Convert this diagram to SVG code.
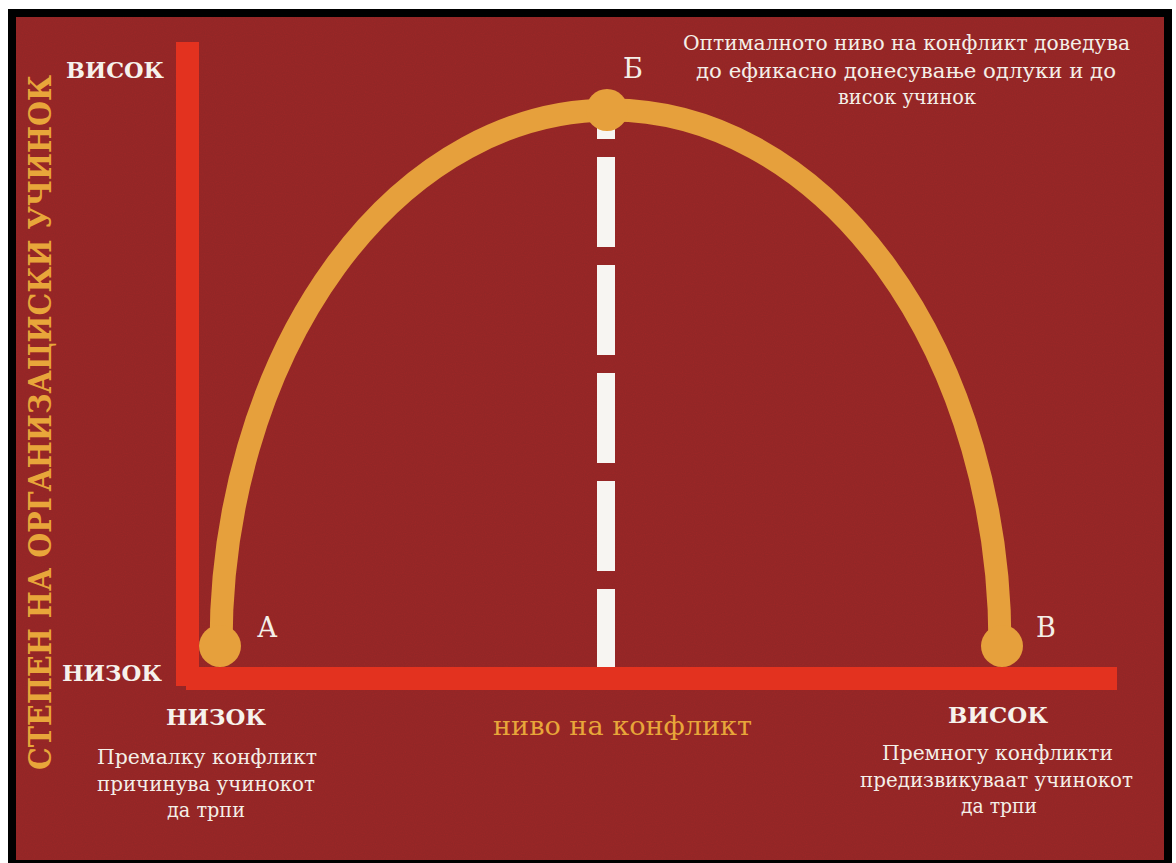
<svg xmlns="http://www.w3.org/2000/svg" width="1176" height="863" viewBox="0 0 1176 863">
<defs>
<style>
text{font-family:"DejaVu Serif","Liberation Serif",serif}
.w{fill:#f4efe8}
.wb{fill:#f6f2ec;font-weight:bold;font-size:23px}
.y{fill:#e8a63a}
.axis{fill:#e3321f}
.curve{fill:none;stroke:#e6a03c;stroke-width:23}
.dot{fill:#e6a03c}
</style>
<filter id="tex" x="0" y="0" width="100%" height="100%">
<feTurbulence type="fractalNoise" baseFrequency="0.9" numOctaves="2" seed="3" result="n"/>
<feColorMatrix in="n" type="matrix" values="0 0 0 0 0  0 0 0 0 0  0 0 0 0 0  0 0 0 0.18 0" result="a"/>
<feComposite in="a" in2="SourceGraphic" operator="in" result="b"/>
<feMerge><feMergeNode in="SourceGraphic"/><feMergeNode in="b"/></feMerge>
</filter>
</defs>
<rect x="0" y="0" width="1176" height="863" fill="#ffffff"/>
<rect x="8" y="9" width="1164" height="854" fill="#000000"/>
<rect x="16" y="17" width="1148" height="843" fill="#9c2c2c" filter="url(#tex)"/>
<g id="axes">
<rect class="axis" x="176" y="42" width="23" height="644"/>
<rect class="axis" x="186" y="667" width="931" height="23"/>
</g>
<g id="connectors">
<line x1="606" y1="120" x2="606" y2="667" stroke="#f7f5f2" stroke-width="18" stroke-dasharray="90 18" stroke-dashoffset="71"/>
<path class="curve" d="M 221 645 A 389.5 535 0 0 1 1000 645"/>
</g>
<g id="point-a"><circle class="dot" cx="220" cy="646" r="21"/><text class="w" x="257" y="637" font-size="27">А</text></g>
<g id="point-b"><circle class="dot" cx="607" cy="110" r="21"/><text class="w" x="623" y="78" font-size="27">Б</text></g>
<g id="point-v"><circle class="dot" cx="1002" cy="646" r="21"/><text class="w" x="1036" y="637" font-size="27">В</text></g>
<g id="y-axis-labels">
<text class="wb" x="66" y="78" textLength="98" lengthAdjust="spacingAndGlyphs">ВИСОК</text>
<text class="wb" x="62" y="681" textLength="100" lengthAdjust="spacingAndGlyphs">НИЗОК</text>
<text class="y" font-weight="bold" font-size="32" transform="translate(51 770) rotate(-90)" textLength="695" lengthAdjust="spacingAndGlyphs">СТЕПЕН НА ОРГАНИЗАЦИСКИ УЧИНОК</text>
</g>
<g id="x-axis-labels">
<text class="wb" x="166" y="725" textLength="100" lengthAdjust="spacingAndGlyphs">НИЗОК</text>
<text class="wb" x="948" y="723" textLength="100" lengthAdjust="spacingAndGlyphs">ВИСОК</text>
<text class="y" x="493" y="735" font-size="26" textLength="259" lengthAdjust="spacingAndGlyphs">ниво на конфликт</text>
</g>
<g id="note-low">
<text class="w" font-size="21" x="97" y="764" textLength="220" lengthAdjust="spacingAndGlyphs">Премалку конфликт</text>
<text class="w" font-size="21" x="97" y="791" textLength="218" lengthAdjust="spacingAndGlyphs">причинува учинокот</text>
<text class="w" font-size="21" x="167" y="817" textLength="78" lengthAdjust="spacingAndGlyphs">да трпи</text>
</g>
<g id="note-high">
<text class="w" font-size="21" x="882" y="760" textLength="231" lengthAdjust="spacingAndGlyphs">Премногу конфликти</text>
<text class="w" font-size="21" x="860" y="787" textLength="273" lengthAdjust="spacingAndGlyphs">предизвикуваат учинокот</text>
<text class="w" font-size="21" x="961" y="813" textLength="76" lengthAdjust="spacingAndGlyphs">да трпи</text>
</g>
<g id="note-optimal">
<text class="w" font-size="21" x="683" y="50" textLength="447" lengthAdjust="spacingAndGlyphs">Оптималното ниво на конфликт доведува</text>
<text class="w" font-size="21" x="696" y="78" textLength="420" lengthAdjust="spacingAndGlyphs">до ефикасно донесување одлуки и до</text>
<text class="w" font-size="21" x="838" y="104" textLength="138" lengthAdjust="spacingAndGlyphs">висок учинок</text>
</g>
</svg>
